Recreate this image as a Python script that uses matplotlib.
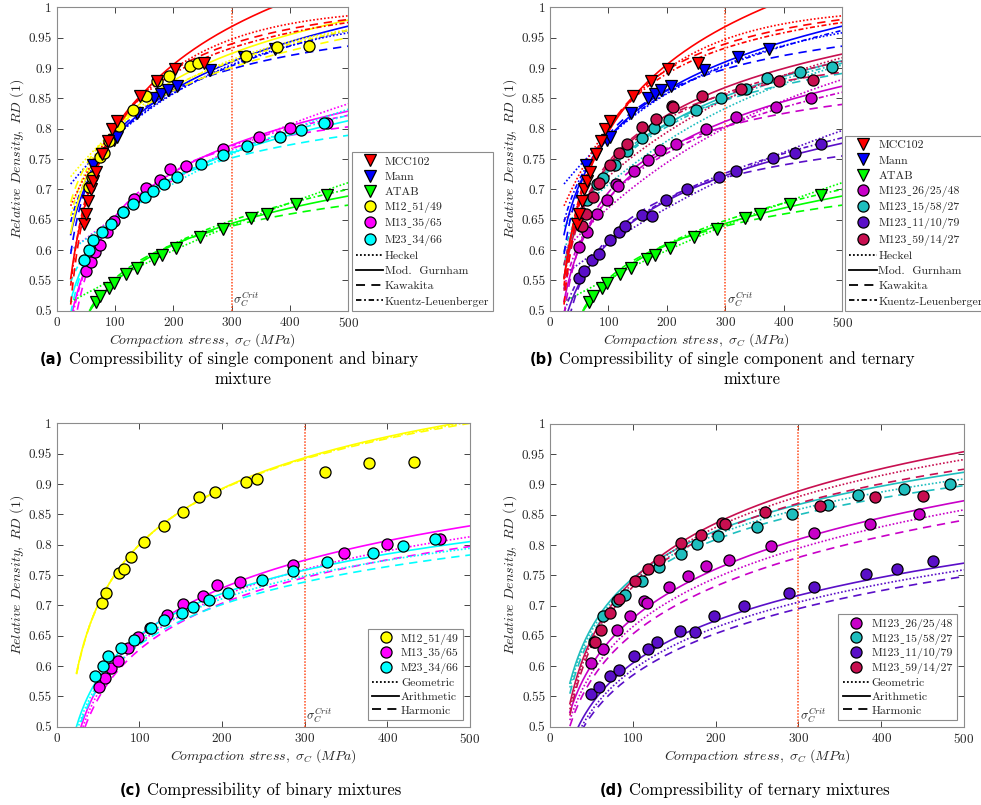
import numpy as np
import matplotlib
matplotlib.use("Agg")
import matplotlib.pyplot as plt
from matplotlib.lines import Line2D

plt.rcParams['font.family'] = ['cmr10', 'DejaVu Serif']
plt.rcParams['mathtext.fontset'] = 'cm'
plt.rcParams['axes.formatter.use_mathtext'] = True
plt.rcParams['axes.unicode_minus'] = False

# ---- measured points (compaction stress MPa, relative density) ----
sig_mcc = [46, 50, 54, 59, 63, 68, 78, 88, 94, 103, 142, 172, 202, 253]
rd_mcc = [0.643, 0.660, 0.680, 0.700, 0.713, 0.729, 0.759, 0.780, 0.800, 0.813, 0.853, 0.879, 0.898, 0.909]
sig_mann = [62, 78, 98, 103, 138, 167, 179, 190, 207, 263, 322, 374]
rd_mann = [0.740, 0.759, 0.782, 0.787, 0.825, 0.850, 0.857, 0.864, 0.870, 0.896, 0.918, 0.931]
sig_atab = [67, 74, 89, 98, 119, 138, 166, 180, 205, 246, 285, 334, 360, 411, 463]
rd_atab = [0.515, 0.524, 0.537, 0.545, 0.560, 0.570, 0.585, 0.592, 0.604, 0.622, 0.634, 0.653, 0.660, 0.676, 0.690]

sig_m12 = [55, 60, 75, 81, 90, 106, 130, 153, 172, 192, 229, 242, 324, 378, 432]
rd_m12 = [0.704, 0.720, 0.753, 0.760, 0.780, 0.805, 0.830, 0.853, 0.879, 0.886, 0.903, 0.908, 0.920, 0.934, 0.936]
sig_m13 = [51, 58, 66, 74, 86, 98, 113, 133, 153, 177, 194, 222, 286, 347, 400, 464]
rd_m13 = [0.566, 0.581, 0.596, 0.608, 0.629, 0.648, 0.663, 0.684, 0.703, 0.716, 0.733, 0.738, 0.766, 0.786, 0.801, 0.810]
sig_m23 = [46, 56, 62, 78, 93, 114, 130, 151, 165, 184, 207, 248, 286, 327, 383, 419, 458]
rd_m23 = [0.583, 0.600, 0.617, 0.630, 0.643, 0.663, 0.676, 0.687, 0.698, 0.708, 0.720, 0.742, 0.756, 0.771, 0.786, 0.798, 0.810]

sig_t26 = [50, 64, 81, 97, 113, 117, 144, 167, 188, 216, 267, 319, 386, 446]
rd_t26 = [0.605, 0.629, 0.659, 0.682, 0.708, 0.705, 0.730, 0.749, 0.765, 0.775, 0.799, 0.819, 0.835, 0.851]
sig_t15 = [53, 64, 81, 91, 111, 132, 158, 178, 203, 250, 292, 336, 372, 427, 483]
rd_t15 = [0.640, 0.683, 0.708, 0.718, 0.740, 0.763, 0.785, 0.801, 0.815, 0.830, 0.851, 0.866, 0.883, 0.893, 0.901]
sig_t11 = [50, 59, 72, 83, 102, 118, 129, 157, 175, 198, 234, 289, 319, 382, 419, 463]
rd_t11 = [0.554, 0.566, 0.583, 0.594, 0.616, 0.629, 0.640, 0.658, 0.656, 0.683, 0.700, 0.720, 0.731, 0.752, 0.760, 0.774]
sig_t59 = [54, 62, 73, 83, 103, 118, 132, 158, 182, 208, 211, 260, 326, 392, 450]
rd_t59 = [0.639, 0.660, 0.687, 0.710, 0.740, 0.760, 0.775, 0.803, 0.816, 0.837, 0.835, 0.854, 0.865, 0.879, 0.881]

# ---- model curves, RD read at the anchor stresses ----
anchor_sig = [25, 100, 500]
heckel_sig = [25, 500]

hk_mcc = [0.675, 0.986]; gu_mcc = [0.56, 0.795, 1.045]; kw_mcc = [0.52, 0.80, 0.980]; kl_mcc = [0.55, 0.80, 0.975]
hk_mann = [0.710, 0.958]; gu_mann = [0.63, 0.785, 0.969]; kw_mann = [0.60, 0.79, 0.936]; kl_mann = [0.65, 0.785, 0.962]
hk_atab = [0.515, 0.711]; gu_atab = [0.43, 0.548, 0.689]; kw_atab = [0.42, 0.553, 0.674]; kl_atab = [0.44, 0.548, 0.700]

hk_m12 = [0.722, 0.963]; gu_m12 = [0.633, 0.80, 0.979]; kw_m12 = [0.682, 0.80, 0.950]; kl_m12 = [0.66, 0.80, 0.962]
hk_m13 = [0.60, 0.841]; gu_m13 = [0.49, 0.650, 0.829]; kw_m13 = [0.44, 0.655, 0.803]; kl_m13 = [0.48, 0.652, 0.822]
hk_m23 = [0.60, 0.832]; gu_m23 = [0.52, 0.650, 0.813]; kw_m23 = [0.50, 0.655, 0.789]; kl_m23 = [0.55, 0.652, 0.822]

hk_t26 = [0.60, 0.881]; gu_t26 = [0.52, 0.685, 0.870]; kw_t26 = [0.50, 0.695, 0.840]; kl_t26 = [0.54, 0.685, 0.860]
hk_t15 = [0.64, 0.905]; gu_t15 = [0.58, 0.73, 0.912]; kw_t15 = [0.56, 0.735, 0.891]; kl_t15 = [0.60, 0.73, 0.908]
hk_t11 = [0.56, 0.797]; gu_t11 = [0.48, 0.612, 0.776]; kw_t11 = [0.45, 0.62, 0.755]; kl_t11 = [0.50, 0.615, 0.785]
hk_t59 = [0.65, 0.917]; gu_t59 = [0.56, 0.74, 0.923]; kw_t59 = [0.54, 0.745, 0.893]; kl_t59 = [0.58, 0.74, 0.911]

# mixture rules (geometric, arithmetic, harmonic)
ge_m12 = [0.595, 0.80, 1.002]; ar_m12 = [0.595, 0.80, 1.004]; hm_m12 = [0.593, 0.80, 1.0]
ge_m13 = [0.47, 0.637, 0.813]; ar_m13 = [0.48, 0.648, 0.831]; hm_m13 = [0.46, 0.627, 0.797]
ge_m23 = [0.495, 0.643, 0.794]; ar_m23 = [0.505, 0.651, 0.805]; hm_m23 = [0.49, 0.635, 0.783]
ge_t26 = [0.515, 0.665, 0.858]; ar_t26 = [0.528, 0.679, 0.873]; hm_t26 = [0.505, 0.653, 0.841]
ge_t15 = [0.57, 0.74, 0.909]; ar_t15 = [0.577, 0.745, 0.92]; hm_t15 = [0.56, 0.733, 0.898]
ge_t11 = [0.46, 0.594, 0.759]; ar_t11 = [0.47, 0.605, 0.770]; hm_t11 = [0.455, 0.585, 0.748]
ge_t59 = [0.535, 0.737, 0.941]; ar_t59 = [0.544, 0.742, 0.954]; hm_t59 = [0.525, 0.731, 0.925]

sig_crit = 300

c_mcc, c_mann, c_atab = '#ff0000', '#0000ff', '#00ff00'
c_m12, c_m13, c_m23 = '#ffff00', '#ff00ff', '#00ffff'
c_t26, c_t15, c_t11, c_t59 = '#c800c8', '#1ebebe', '#5a0fc8', '#c80f50'

s = np.linspace(24, 500, 300)
DOT = (0, (1, 1.2))
DASH = (0, (5, 3.5))
DASHDOT = (0, (3, 1.5, 1, 1.5))
US = '\u02cd'   # low line between mixture code and ratios


def logcurve(vals):
    coef = np.polyfit(np.log(anchor_sig), vals, 2)
    return np.polyval(coef, np.log(s))


def heckel(vals):
    y = -np.log(1 - np.array(vals))
    K = (y[1] - y[0]) / (heckel_sig[1] - heckel_sig[0])
    A = y[0] - K * heckel_sig[0]
    return 1 - np.exp(-(K * s + A))


def setup(ax):
    ax.set_xlim(0, 500)
    ax.set_ylim(0.5, 1)
    ax.set_xticks([0, 100, 200, 300, 400, 500])
    yt = np.arange(0.5, 1.001, 0.05)
    ax.set_yticks(yt)
    ax.set_yticklabels(['0.5', '0.55', '0.6', '0.65', '0.7', '0.75', '0.8', '0.85', '0.9', '0.95', '1'])
    ax.tick_params(direction='in', top=True, right=True, labelsize=9.5, colors='#262626',
                   length=4, width=0.6)
    for sp in ax.spines.values():
        sp.set_color('#8c8c8c')
        sp.set_linewidth(0.8)
    ax.set_xlabel(r'$Compaction\ stress,\ \sigma_C\ (MPa)$', fontsize=10, labelpad=1, color='#262626')
    ax.set_ylabel(r'$Relative\ Density,\ RD$ (1)', fontsize=10, labelpad=2, color='#262626')
    ax.axvline(sig_crit, color='#ff4a1a', ls=(0, (1, 1)), lw=1.1)
    ax.text(sig_crit + 2, 0.503, r'$\sigma_C^{Crit}$', fontsize=9, ha='left', va='bottom', color='#262626')


def models(ax, c, hk, gu, kw, kl):
    ax.plot(s, heckel(hk), color=c, ls=DOT, lw=1.2)
    ax.plot(s, logcurve(gu), color=c, ls='-', lw=1.2)
    ax.plot(s, logcurve(kw), color=c, ls=DASH, lw=1.2)
    ax.plot(s, logcurve(kl), color=c, ls=DASHDOT, lw=1.2)


def mixes(ax, c, ge, ar, hm):
    ax.plot(s, logcurve(ge), color=c, ls=DOT, lw=1.2)
    ax.plot(s, logcurve(ar), color=c, ls='-', lw=1.2)
    ax.plot(s, logcurve(hm), color=c, ls=DASH, lw=1.2)


def pts(ax, x, y, c, m):
    ms = 9 if m == 'v' else 8
    ax.plot(x, y, ls='none', marker=m, ms=ms, mfc=c, mec='k', mew=0.9)


def mk(c, m, lab):
    ms = 9 if m == 'v' else 8
    return Line2D([], [], ls='none', marker=m, ms=ms, mfc=c, mec='k', mew=0.9, label=lab)


def ln(style, lab):
    return Line2D([], [], color='k', ls=style, lw=1.3, label=lab)


def leg(ax, handles, loc, anchor, spacing):
    lg = ax.legend(handles=handles, loc=loc, bbox_to_anchor=anchor, borderaxespad=0,
                   fontsize=8.5, labelspacing=spacing, handlelength=2.3, handletextpad=0.15,
                   borderpad=0.35, fancybox=False, framealpha=1, edgecolor='#8c8c8c')
    lg.get_frame().set_linewidth(0.8)
    for t in lg.get_texts():
        t.set_color('#262626')


def caption(x, y, tag, rest, line2=None, x2=None):
    t = fig.text(x / 981, 1 - y / 805, tag, fontfamily='DejaVu Sans', fontweight='bold',
                 fontsize=10.5, ha='left', va='center')
    plt.annotate(rest, xy=(1, 0.5), xycoords=t, xytext=(4, 0), textcoords='offset points',
                 fontsize=12, ha='left', va='center', annotation_clip=False)
    if line2:
        fig.text(x2 / 981, 1 - (y + 20) / 805, line2, fontsize=12, ha='center', va='center')


fig = plt.figure(figsize=(9.81, 8.05), dpi=100)
W, H = 981, 805


def axes_px(l, r, t, b):
    return fig.add_axes([l / W, 1 - b / H, (r - l) / W, (b - t) / H])


ax_a = axes_px(56.7, 348.3, 7.3, 310.7)
ax_b = axes_px(550, 842.3, 7.3, 310.7)
ax_c = axes_px(56.7, 470, 423.3, 726.7)
ax_d = axes_px(550, 964, 423.8, 726.7)

# (a)
setup(ax_a)
models(ax_a, c_m13, hk_m13, gu_m13, kw_m13, kl_m13)
models(ax_a, c_m23, hk_m23, gu_m23, kw_m23, kl_m23)
models(ax_a, c_atab, hk_atab, gu_atab, kw_atab, kl_atab)
models(ax_a, c_mann, hk_mann, gu_mann, kw_mann, kl_mann)
models(ax_a, c_m12, hk_m12, gu_m12, kw_m12, kl_m12)
models(ax_a, c_mcc, hk_mcc, gu_mcc, kw_mcc, kl_mcc)
pts(ax_a, sig_atab, rd_atab, c_atab, 'v')
pts(ax_a, sig_m13, rd_m13, c_m13, 'o')
pts(ax_a, sig_m23, rd_m23, c_m23, 'o')
pts(ax_a, sig_mann, rd_mann, c_mann, 'v')
pts(ax_a, sig_m12, rd_m12, c_m12, 'o')
pts(ax_a, sig_mcc, rd_mcc, c_mcc, 'v')
model_handles = [ln(DOT, 'Heckel'), ln('-', 'Mod.  Gurnham'), ln(DASH, 'Kawakita'),
                 ln(DASHDOT, 'Kuentz-Leuenberger')]
leg(ax_a, [mk(c_mcc, 'v', 'MCC102'), mk(c_mann, 'v', 'Mann'), mk(c_atab, 'v', 'ATAB'),
           mk(c_m12, 'o', 'M12' + US + '51/49'), mk(c_m13, 'o', 'M13' + US + '35/65'),
           mk(c_m23, 'o', 'M23' + US + '34/66')]
    + model_handles, 'lower left', (1.012, 0.0), 0.42)

# (b)
setup(ax_b)
models(ax_b, c_atab, hk_atab, gu_atab, kw_atab, kl_atab)
models(ax_b, c_t11, hk_t11, gu_t11, kw_t11, kl_t11)
models(ax_b, c_t26, hk_t26, gu_t26, kw_t26, kl_t26)
models(ax_b, c_t15, hk_t15, gu_t15, kw_t15, kl_t15)
models(ax_b, c_t59, hk_t59, gu_t59, kw_t59, kl_t59)
models(ax_b, c_mann, hk_mann, gu_mann, kw_mann, kl_mann)
models(ax_b, c_mcc, hk_mcc, gu_mcc, kw_mcc, kl_mcc)
pts(ax_b, sig_atab, rd_atab, c_atab, 'v')
pts(ax_b, sig_t11, rd_t11, c_t11, 'o')
pts(ax_b, sig_t26, rd_t26, c_t26, 'o')
pts(ax_b, sig_t15, rd_t15, c_t15, 'o')
pts(ax_b, sig_t59, rd_t59, c_t59, 'o')
pts(ax_b, sig_mann, rd_mann, c_mann, 'v')
pts(ax_b, sig_mcc, rd_mcc, c_mcc, 'v')
model_handles = [ln(DOT, 'Heckel'), ln('-', 'Mod.  Gurnham'), ln(DASH, 'Kawakita'),
                 ln(DASHDOT, 'Kuentz-Leuenberger')]
leg(ax_b, [mk(c_mcc, 'v', 'MCC102'), mk(c_mann, 'v', 'Mann'), mk(c_atab, 'v', 'ATAB'),
           mk(c_t26, 'o', 'M123' + US + '26/25/48'), mk(c_t15, 'o', 'M123' + US + '15/58/27'),
           mk(c_t11, 'o', 'M123' + US + '11/10/79'), mk(c_t59, 'o', 'M123' + US + '59/14/27')]
    + model_handles, 'lower left', (1.01, 0.0), 0.42)

# (c)
setup(ax_c)
mixes(ax_c, c_m13, ge_m13, ar_m13, hm_m13)
mixes(ax_c, c_m23, ge_m23, ar_m23, hm_m23)
mixes(ax_c, c_m12, ge_m12, ar_m12, hm_m12)
pts(ax_c, sig_m13, rd_m13, c_m13, 'o')
pts(ax_c, sig_m23, rd_m23, c_m23, 'o')
pts(ax_c, sig_m12, rd_m12, c_m12, 'o')
mix_handles = [ln(DOT, 'Geometric'), ln('-', 'Arithmetic'), ln(DASH, 'Harmonic')]
leg(ax_c, [mk(c_m12, 'o', 'M12' + US + '51/49'), mk(c_m13, 'o', 'M13' + US + '35/65'),
           mk(c_m23, 'o', 'M23' + US + '34/66')]
    + mix_handles, 'lower right', (0.983, 0.023), 0.3)

# (d)
setup(ax_d)
mixes(ax_d, c_t11, ge_t11, ar_t11, hm_t11)
mixes(ax_d, c_t26, ge_t26, ar_t26, hm_t26)
mixes(ax_d, c_t15, ge_t15, ar_t15, hm_t15)
mixes(ax_d, c_t59, ge_t59, ar_t59, hm_t59)
pts(ax_d, sig_t11, rd_t11, c_t11, 'o')
pts(ax_d, sig_t26, rd_t26, c_t26, 'o')
pts(ax_d, sig_t15, rd_t15, c_t15, 'o')
pts(ax_d, sig_t59, rd_t59, c_t59, 'o')
mix_handles = [ln(DOT, 'Geometric'), ln('-', 'Arithmetic'), ln(DASH, 'Harmonic')]
leg(ax_d, [mk(c_t26, 'o', 'M123' + US + '26/25/48'), mk(c_t15, 'o', 'M123' + US + '15/58/27'),
           mk(c_t11, 'o', 'M123' + US + '11/10/79'), mk(c_t59, 'o', 'M123' + US + '59/14/27')]
    + mix_handles, 'lower right', (0.983, 0.023), 0.3)

# captions
caption(40, 359, '(a)', 'Compressibility of single component and binary', 'mixture', 243)
caption(530, 359, '(b)', 'Compressibility of single component and ternary', 'mixture', 752)
caption(120, 790, '(c)', 'Compressibility of binary mixtures')
caption(600, 790, '(d)', 'Compressibility of ternary mixtures')

fig.savefig('out.png', dpi=100)
